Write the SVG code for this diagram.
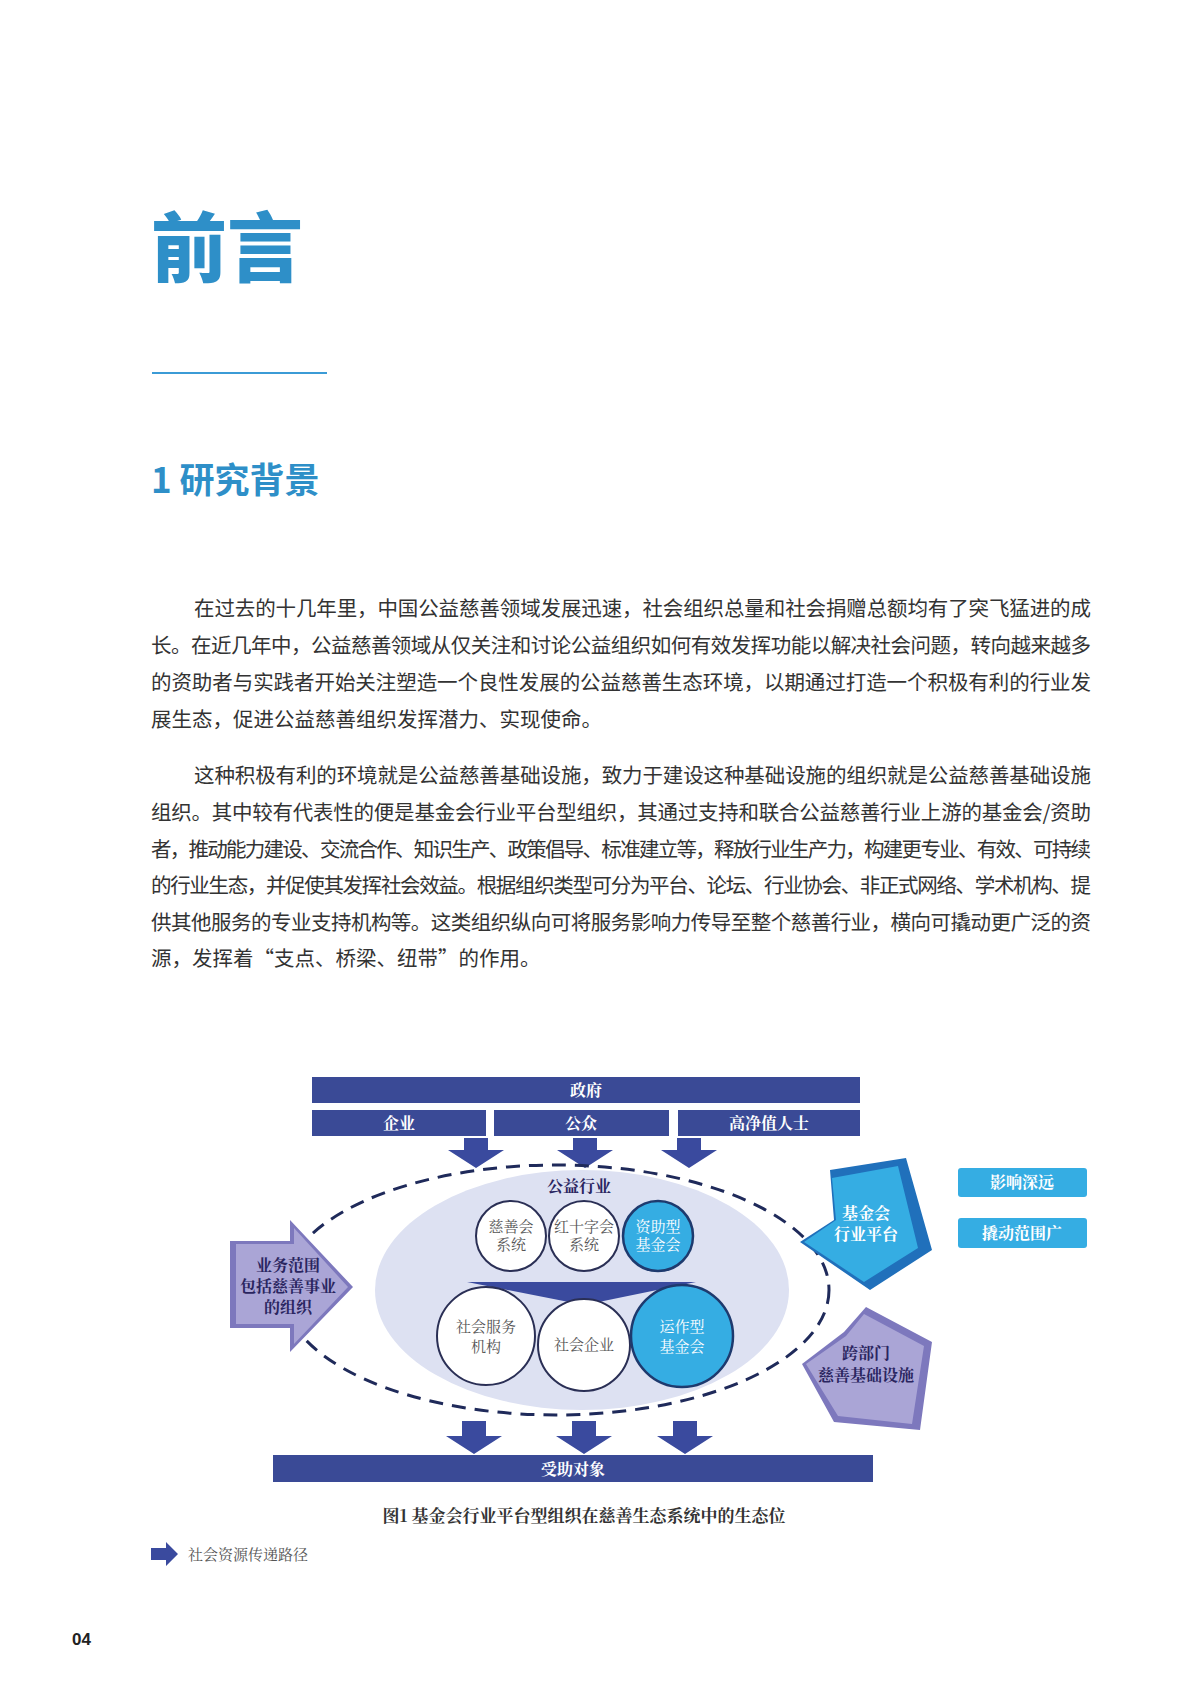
<svg xmlns="http://www.w3.org/2000/svg" width="1200" height="1698" viewBox="0 0 1200 1698">
<style>
.p{font-family:"Noto Sans CJK SC",sans-serif;font-size:20.5px;fill:#333}
.bar{fill:#3a4a96}
.bt{font-family:"Noto Serif CJK SC","Liberation Serif","Noto Sans CJK SC",serif;font-size:16px;fill:#fff;text-anchor:middle;font-weight:bold}
.ct{font-family:"Noto Serif CJK SC","Liberation Serif","Noto Sans CJK SC",serif;font-size:15px;fill:#555;text-anchor:middle}
.ctw{fill:#fff}
.dt{font-family:"Noto Serif CJK SC","Liberation Serif","Noto Sans CJK SC",serif;font-size:16px;fill:#2a2560;text-anchor:middle;font-weight:bold}
.wc{fill:#fff;stroke:#2a2f55;stroke-width:2}
.bc{fill:#35ade3;stroke:#1e3a6e;stroke-width:2.5}
.da{fill:#3a4a9e}
</style>
<rect width="1200" height="1698" fill="#fff"/>
<text x="151" y="276" font-family="Noto Sans CJK SC,sans-serif" font-weight="900" font-size="76" fill="#2e8fc8">前言</text>
<rect x="152" y="372" width="175" height="2" fill="#3b9bd6"/>
<text x="151" y="493" font-family="Noto Sans CJK SC,sans-serif" font-weight="bold" font-size="35" fill="#2e8fc8">1 研究背景</text>
<g class="p">
<text x="194" y="616" textLength="897">在过去的十几年里，中国公益慈善领域发展迅速，社会组织总量和社会捐赠总额均有了突飞猛进的成</text>
<text x="151" y="653" textLength="940">长。在近几年中，公益慈善领域从仅关注和讨论公益组织如何有效发挥功能以解决社会问题，转向越来越多</text>
<text x="151" y="690" textLength="940">的资助者与实践者开始关注塑造一个良性发展的公益慈善生态环境，以期通过打造一个积极有利的行业发</text>
<text x="151" y="727">展生态，促进公益慈善组织发挥潜力、实现使命。</text>
<text x="194" y="783" textLength="897">这种积极有利的环境就是公益慈善基础设施，致力于建设这种基础设施的组织就是公益慈善基础设施</text>
<text x="151" y="820" textLength="940">组织。其中较有代表性的便是基金会行业平台型组织，其通过支持和联合公益慈善行业上游的基金会/资助</text>
<text x="151" y="857" textLength="940">者，推动能力建设、交流合作、知识生产、政策倡导、标准建立等，释放行业生产力，构建更专业、有效、可持续</text>
<text x="151" y="893" textLength="940">的行业生态，并促使其发挥社会效益。根据组织类型可分为平台、论坛、行业协会、非正式网络、学术机构、提</text>
<text x="151" y="930" textLength="940">供其他服务的专业支持机构等。这类组织纵向可将服务影响力传导至整个慈善行业，横向可撬动更广泛的资</text>
<text x="151" y="966">源，发挥着“支点、桥梁、纽带”的作用。</text>
</g>
<g transform="translate(-2,-8)">
<g id="sources">
<rect class="bar" x="314" y="1085" width="548" height="26"/><text class="bt" x="588" y="1104">政府</text>
<rect class="bar" x="314" y="1118" width="174" height="26"/><text class="bt" x="401" y="1137">企业</text>
<rect class="bar" x="496" y="1118" width="175" height="26"/><text class="bt" x="583" y="1137">公众</text>
<rect class="bar" x="680" y="1118" width="182" height="26"/><text class="bt" x="771" y="1137">高净值人士</text>
</g>
<g id="connectors">
<polygon class="da" points="466,1146 490,1146 490,1158 506,1158 478,1176 450,1158 466,1158"/>
<polygon class="da" points="575,1146 599,1146 599,1158 615,1158 587,1176 559,1158 575,1158"/>
<polygon class="da" points="679,1146 703,1146 703,1158 719,1158 691,1176 663,1158 679,1158"/>
<polygon class="da" points="464,1429 488,1429 488,1444 504,1444 476,1462 448,1444 464,1444"/>
<polygon class="da" points="574,1429 598,1429 598,1444 614,1444 586,1462 558,1444 574,1444"/>
<polygon class="da" points="675,1429 699,1429 699,1444 715,1444 687,1462 659,1444 675,1444"/>
</g>
<g id="industry">
<ellipse cx="584" cy="1298" rx="207" ry="120" fill="#dde1f2"/>
<ellipse cx="558" cy="1298" rx="273" ry="125" fill="none" stroke="#1f2a5a" stroke-width="3" stroke-dasharray="14,9"/>
<text class="dt" x="581" y="1200">公益行业</text>
</g>
<g id="top-circles">
<circle class="wc" cx="513" cy="1244" r="35"/><text class="ct" x="513" y="1240">慈善会</text><text class="ct" x="513" y="1258">系统</text>
<circle class="wc" cx="586" cy="1244" r="35"/><text class="ct" x="586" y="1240">红十字会</text><text class="ct" x="586" y="1258">系统</text>
<circle class="bc" cx="660" cy="1244" r="35"/><text class="ct ctw" x="660" y="1240">资助型</text><text class="ct ctw" x="660" y="1258">基金会</text>
</g>
<polygon id="wedge" fill="#3a4a9e" points="469,1290 698,1290 586,1313"/>
<g id="bottom-circles">
<circle class="wc" cx="488" cy="1344" r="49"/><text class="ct" x="488" y="1340">社会服务</text><text class="ct" x="488" y="1360">机构</text>
<circle class="wc" cx="586" cy="1353" r="46"/><text class="ct" x="586" y="1358">社会企业</text>
<circle class="bc" cx="684" cy="1344" r="51"/><text class="ct ctw" x="684" y="1340">运作型</text><text class="ct ctw" x="684" y="1360">基金会</text>
</g>
<g id="left-arrow">
<polygon fill="#7d78bd" points="232,1249 292,1249 292,1228 355,1295 292,1360 292,1336 232,1336"/>
<polygon fill="#aaa5d6" points="238,1252 296,1252 296,1236 350,1295 296,1352 296,1332 238,1332"/>
<text class="dt" x="290" y="1279">业务范围</text><text class="dt" x="290" y="1300">包括慈善事业</text><text class="dt" x="290" y="1321">的组织</text>
</g>
<g id="platform">
<polygon fill="#2070bb" points="832,1178 908,1166 934,1258 872,1298 802,1250 836,1228"/>
<polygon fill="#35ade3" points="834,1186 900,1174 920,1256 866,1290 806,1250 838,1228"/>
<text class="bt" x="868" y="1227">基金会</text><text class="bt" x="868" y="1248">行业平台</text>
</g>
<g id="cross">
<polygon fill="#7d78bd" points="868,1315 934,1350 922,1438 836,1430 804,1372 846,1340"/>
<polygon fill="#aaa5d6" points="866,1322 926,1354 914,1432 840,1424 808,1372 848,1344"/>
<text class="dt" x="868" y="1367">跨部门</text><text class="dt" x="868" y="1389">慈善基础设施</text>
</g>
<g id="tags">
<rect x="960" y="1176" width="129" height="29" rx="3" fill="#35ade3"/><text class="bt" x="1024" y="1196">影响深远</text>
<rect x="960" y="1226" width="129" height="30" rx="3" fill="#35ade3"/><text class="bt" x="1024" y="1247">撬动范围广</text>
</g>
<g id="receivers">
<rect class="bar" x="275" y="1463" width="600" height="27"/><text class="bt" x="575" y="1483">受助对象</text>
</g>
<text x="586" y="1530" text-anchor="middle" font-family="Noto Serif CJK SC,Liberation Serif,serif" font-weight="bold" font-size="17" fill="#333">图1 基金会行业平台型组织在慈善生态系统中的生态位</text>
<g id="legend">
<polygon class="da" points="153,1556 168,1556 168,1550 180,1562 168,1574 168,1568 153,1568"/>
<text x="190" y="1568" font-family="Noto Serif CJK SC,Liberation Serif,serif" font-size="15" fill="#555">社会资源传递路径</text>
</g>
</g>
<text x="72" y="1645" font-family="Liberation Sans,sans-serif" font-weight="bold" font-size="17" fill="#222">04</text>
</svg>
